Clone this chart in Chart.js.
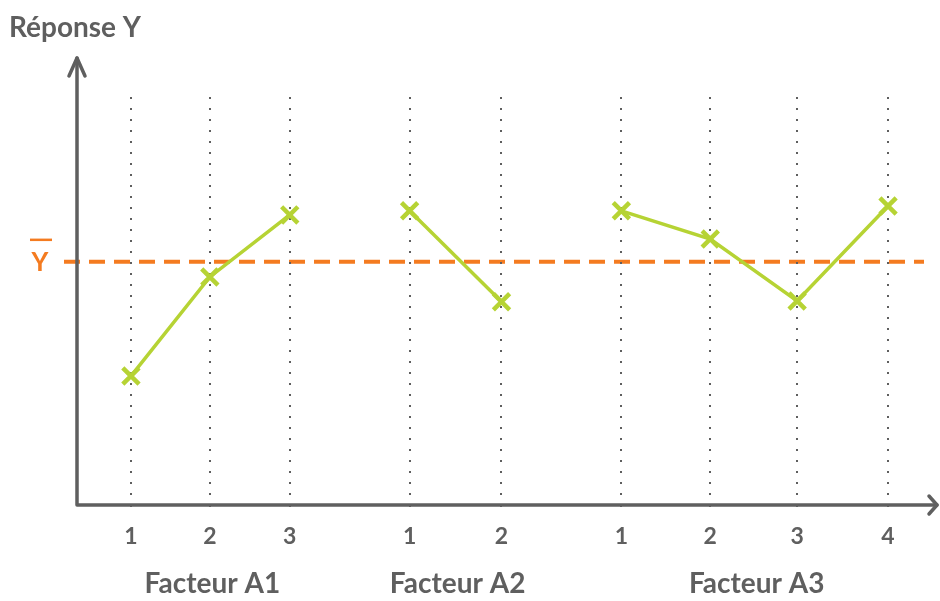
<!DOCTYPE html>
<html><head><meta charset="utf-8">
<script src="https://cdn.jsdelivr.net/npm/chart.js@4"></script>
<style>html,body{margin:0;padding:0;background:#fff}#wrap{width:940px;height:601px}</style>
</head><body><div id="wrap"><canvas id="c" width="940" height="601"></canvas></div>
<script>
const groups = ['Facteur A1', 'Facteur A2', 'Facteur A3'];
const levelLabels = [['1', '2', '3'], ['1', '2'], ['1', '2', '3', '4']];
const xPositions = [[5.4, 13.3, 21.3], [33.3, 42.5], [54.5, 63.4, 72.1, 81.2]];
const responses = [[31.6, 55.9, 71.1], [72.1, 49.8], [72.1, 65.2, 50.0, 73.3]];
const meanY = 59.6;
const yTitle = 'Réponse Y';

const FONT = 'Lato, "Open Sans", sans-serif';
const GRAY = '#5f5f5f';
const GREEN = '#b6d334';
const ORANGE = '#f47b20';

const flatPos = xPositions.flat();
const flatLab = levelLabels.flat();

const datasets = groups.map((g, i) => ({
  label: g,
  data: xPositions[i].map((x, j) => ({x: x, y: responses[i][j]})),
  showLine: true,
  borderColor: GREEN,
  backgroundColor: GREEN,
  borderWidth: 3.5,
  pointStyle: 'crossRot',
  pointRadius: 11.5,
  pointBorderWidth: 4.5,
  pointBorderColor: GREEN,
  tension: 0
}));

const deco = {
  id: 'deco',
  beforeDraw(chart) {
    const ctx = chart.ctx, a = chart.chartArea, ys = chart.scales.y;
    const my = ys.getPixelForValue(meanY);
    ctx.save();
    ctx.strokeStyle = ORANGE; ctx.lineWidth = 4; ctx.setLineDash([16, 9]);
    ctx.beginPath(); ctx.moveTo(a.left - 13, my); ctx.lineTo(a.right, my); ctx.stroke();
    ctx.setLineDash([]);
    ctx.fillStyle = ORANGE; ctx.font = 'bold 26px ' + FONT;
    ctx.textAlign = 'center'; ctx.textBaseline = 'middle';
    ctx.fillText('Y', 40, my + 1);
    ctx.lineWidth = 2.5;
    ctx.beginPath(); ctx.moveTo(30, my - 22); ctx.lineTo(52, my - 22); ctx.stroke();
    ctx.restore();
  },
  afterDraw(chart) {
    const ctx = chart.ctx, a = chart.chartArea, xs = chart.scales.x;
    ctx.save();
    ctx.strokeStyle = GRAY; ctx.lineWidth = 3.5; ctx.lineCap = 'round'; ctx.lineJoin = 'round';
    ctx.beginPath();
    ctx.moveTo(a.left, 58); ctx.lineTo(a.left, a.bottom); ctx.lineTo(937, a.bottom);
    ctx.stroke();
    ctx.beginPath();
    ctx.moveTo(a.left - 8, 76); ctx.lineTo(a.left, 58); ctx.lineTo(a.left + 8, 76);
    ctx.moveTo(929, a.bottom - 9); ctx.lineTo(937, a.bottom); ctx.lineTo(929, a.bottom + 9);
    ctx.stroke();
    ctx.fillStyle = GRAY;
    ctx.font = 'bold 28px ' + FONT;
    ctx.textAlign = 'left'; ctx.textBaseline = 'middle';
    ctx.fillText(yTitle, 9, 28);
    ctx.textAlign = 'center';
    groups.forEach((g, i) => {
      const p = xPositions[i];
      const cx = (xs.getPixelForValue(p[0]) + xs.getPixelForValue(p[p.length - 1])) / 2;
      ctx.fillText(g, cx + 2, 584);
    });
    ctx.restore();
  }
};

new Chart(document.getElementById('c'), {
  type: 'scatter',
  data: { datasets },
  options: {
    responsive: false,
    animation: false,
    layout: { padding: { left: 77, right: 15, top: 97, bottom: 0 } },
    plugins: { legend: { display: false }, tooltip: { enabled: false }, title: { display: false } },
    scales: {
      x: {
        type: 'linear', min: 0, max: 84.8,
        afterBuildTicks(s) { s.ticks = flatPos.map(v => ({ value: v })); },
        afterFit(s) { s.height = 96; },
        grid: { color: GRAY, lineWidth: 2, tickLength: 10, drawTicks: true, tickBorderDash: [2, 9], tickColor: GRAY },
        border: { display: false, dash: [2, 9] },
        ticks: {
          autoSkip: false, maxRotation: 0, padding: 8, color: GRAY,
          font: { family: FONT, size: 23, weight: 'bold' },
          callback: (v, i) => flatLab[i]
        }
      },
      y: { display: false, min: 0, max: 100 }
    }
  },
  plugins: [deco]
});
</script></body></html>
